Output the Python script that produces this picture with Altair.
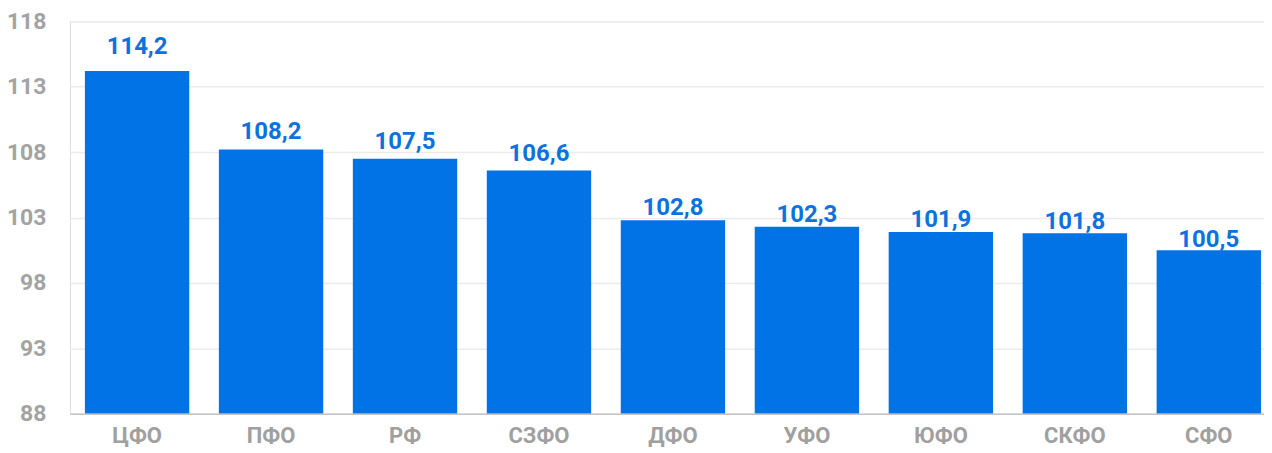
import altair as alt
import pandas as pd

regions = ["ЦФО", "ПФО", "РФ", "СЗФО", "ДФО", "УФО", "ЮФО", "СКФО", "СФО"]
values = [114.2, 108.2, 107.5, 106.6, 102.8, 102.3, 101.9, 101.8, 100.5]
y_ticks = [88, 93, 98, 103, 108, 113, 118]

df = pd.DataFrame({
    "region": regions,
    "value": values,
    "label": [f"{v:.1f}".replace(".", ",") for v in values],
})

x_scale = alt.Scale(paddingInner=0.221, paddingOuter=0.112, range=[0, 1208])

x = alt.X("region:N", sort=regions, title=None, scale=x_scale,
          axis=alt.Axis(labelAngle=0, labelFont="Roboto", labelFontWeight="bold",
                        labelFontSize=22, labelColor="#a0a0a0", labelPadding=12,
                        ticks=False, domainColor="#c4c4c4", domainWidth=1.5, grid=False,
                        zindex=1))
y = alt.Y("value:Q", title=None,
          scale=alt.Scale(domain=[88, 118], nice=False, zero=False),
          axis=alt.Axis(values=y_ticks, labelFont="Roboto", labelFontWeight="bold",
                        labelFontSize=23, labelColor="#a3a3a3", labelPadding=24,
                        ticks=False, domain=False, gridColor="#ececec", gridWidth=1.5))

bars = alt.Chart(df).mark_bar(color="#0173E6").encode(x=x, y=y, y2=alt.datum(88))
labels = alt.Chart(df).mark_text(font="Roboto", fontWeight="bold", fontSize=24,
                                 color="#0b72e0", baseline="alphabetic").encode(
    x=alt.X("region:N", sort=regions, scale=x_scale),
    y=alt.Y("value:Q", scale=alt.Scale(domain=[88.67, 116.54], nice=False, zero=False),
            axis=None),
    text="label:N")

chart = alt.layer(bars, labels).resolve_scale(y="independent").properties(
    width=1196, height=393,
    autosize=alt.AutoSizeParams(type="none"),
    padding={"left": 62, "top": 13, "right": 0, "bottom": 36},
).configure_view(stroke=None).configure(background="white")

chart.save("out.html", embed_options={"renderer": "svg", "actions": False})
